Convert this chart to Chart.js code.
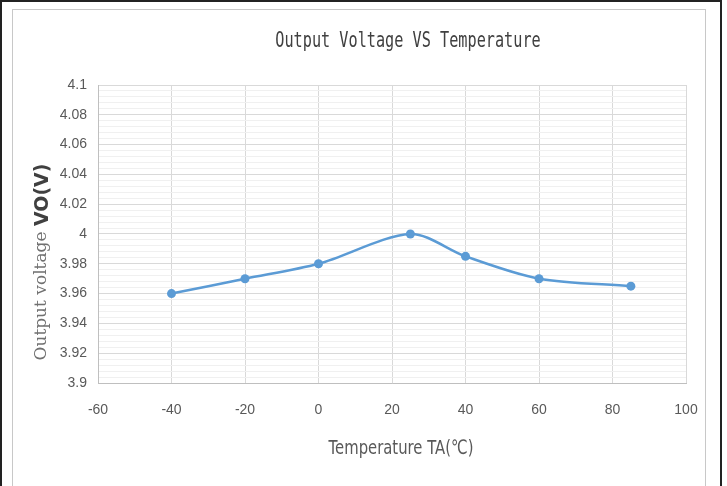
<!DOCTYPE html>
<html>
<head>
<meta charset="utf-8">
<script src="https://cdn.jsdelivr.net/npm/chart.js@4"></script>
<style>
  body { margin: 0; background: #fff; }
  canvas { display: block; }
</style>
</head>
<body>
<canvas id="chart_vout" width="727" height="486"></canvas>
<script>
// data
const temps = [-40, -20, 0, 25, 40, 60, 85];
const vout = [3.96, 3.97, 3.98, 4.0, 3.985, 3.97, 3.965];
const xTicks = [-60, -40, -20, 0, 20, 40, 60, 80, 100];
const yTicks = [3.9, 3.92, 3.94, 3.96, 3.98, 4, 4.02, 4.04, 4.06, 4.08, 4.1];

const chartTitle = 'Output Voltage VS Temperature';
const xTitle = 'Temperature TA(\u2103)';
const yTitleA = 'Output voltage ';
const yTitleB = 'VO(V)';

const blue = '#5b9bd5';

// frame + titles, drawn on the canvas
const decorations = {
    id: 'decorations',
    beforeDraw(chart) {
        const ctx = chart.ctx;
        ctx.save();
        ctx.fillStyle = '#fff';
        ctx.fillRect(0, 0, chart.width, chart.height);
        ctx.strokeStyle = '#222';
        ctx.lineWidth = 2;
        ctx.strokeRect(1, 1, 720, 490);
        ctx.strokeStyle = '#c8c8c8';
        ctx.lineWidth = 1;
        ctx.strokeRect(12.5, 9.5, 693, 490);
        ctx.restore();
    },
    afterDraw(chart) {
        const ctx = chart.ctx;
        ctx.save();
        ctx.fillStyle = '#404040';
        ctx.textAlign = 'center';
        ctx.textBaseline = 'middle';

        // chart title (condensed)
        ctx.save();
        ctx.translate(408, 41);
        ctx.scale(0.76, 1.1);
        ctx.font = '20px "DejaVu Sans Mono"';
        ctx.fillText(chartTitle, 0, 0);
        ctx.restore();

        // x axis title
        ctx.save();
        ctx.translate(401, 449);
        ctx.scale(0.78, 1.05);
        ctx.font = '19px "DejaVu Sans"';
        ctx.fillStyle = '#595959';
        ctx.fillText(xTitle, 0, 0);
        ctx.restore();

        // y axis title, two fonts
        ctx.save();
        ctx.translate(42, 262);
        ctx.rotate(-Math.PI / 2);
        ctx.textAlign = 'left';
        ctx.font = '17px "DejaVu Serif"';
        const wA = ctx.measureText(yTitleA).width * 1.0;
        ctx.font = 'bold 19px "DejaVu Sans"';
        const wB = ctx.measureText(yTitleB).width;
        let x0 = -(wA + wB) / 2;
        ctx.save();
        ctx.translate(x0, 0);
        ctx.font = '17px "DejaVu Serif"';
        ctx.fillStyle = '#707070';
        ctx.fillText(yTitleA, 0, 0);
        ctx.restore();
        ctx.font = 'bold 19px "DejaVu Sans"';
        ctx.fillStyle = '#404040';
        ctx.fillText(yTitleB, x0 + wA, 1);
        ctx.restore();

        ctx.restore();
    }
};

new Chart('chart_vout', {
    type: 'scatter',
    data: {
        datasets: [{
            label: 'VO',
            data: temps.map((t, i) => ({x: t, y: vout[i]})),
            showLine: true,
            borderColor: blue,
            backgroundColor: blue,
            borderWidth: 2.5,
            tension: 0.3,
            pointRadius: 4.5,
            pointHoverRadius: 4.5,
            pointBorderWidth: 0
        }]
    },
    options: {
        responsive: false,
        animation: false,
        layout: {padding: {top: 85, right: 41, left: 0, bottom: 0}},
        plugins: {
            legend: {display: false},
            tooltip: {enabled: false}
        },
        scales: {
            x: {
                type: 'linear',
                min: -60,
                max: 100,
                afterBuildTicks(scale) {
                    scale.ticks = xTicks.map(v => ({value: v}));
                },
                afterFit(scale) { scale.height = 103; },
                grid: {color: '#d9d9d9', drawTicks: false},
                border: {color: '#bfbfbf'},
                ticks: {
                    autoSkip: false,
                    maxRotation: 0,
                    padding: 19,
                    color: '#595959',
                    font: {family: 'Liberation Sans Narrow, Liberation Sans', size: 14},
                    callback: v => String(v)
                }
            },
            y: {
                min: 3.9,
                max: 4.1,
                afterBuildTicks(scale) {
                    const t = [];
                    yTicks.forEach((v, i) => {
                        t.push({value: v, major: true});
                        if (i < yTicks.length - 1) {
                            const step = (yTicks[i + 1] - v) / 5;
                            for (let k = 1; k < 5; k++) t.push({value: v + step * k, major: false});
                        }
                    });
                    scale.ticks = t;
                },
                afterFit(scale) { scale.width = 98; },
                grid: {
                    color: c => (c.tick && c.tick.major) ? '#d9d9d9' : '#f0f0f0',
                    drawTicks: false
                },
                border: {color: '#bfbfbf'},
                ticks: {
                    autoSkip: false,
                    padding: 11,
                    color: '#595959',
                    font: {family: 'Liberation Sans Narrow, Liberation Sans', size: 14},
                    callback: (v, i, ticks) => ticks[i].major ? String(Number(v.toFixed(2))) : ''
                }
            }
        }
    },
    plugins: [decorations]
});
</script>
</body>
</html>
